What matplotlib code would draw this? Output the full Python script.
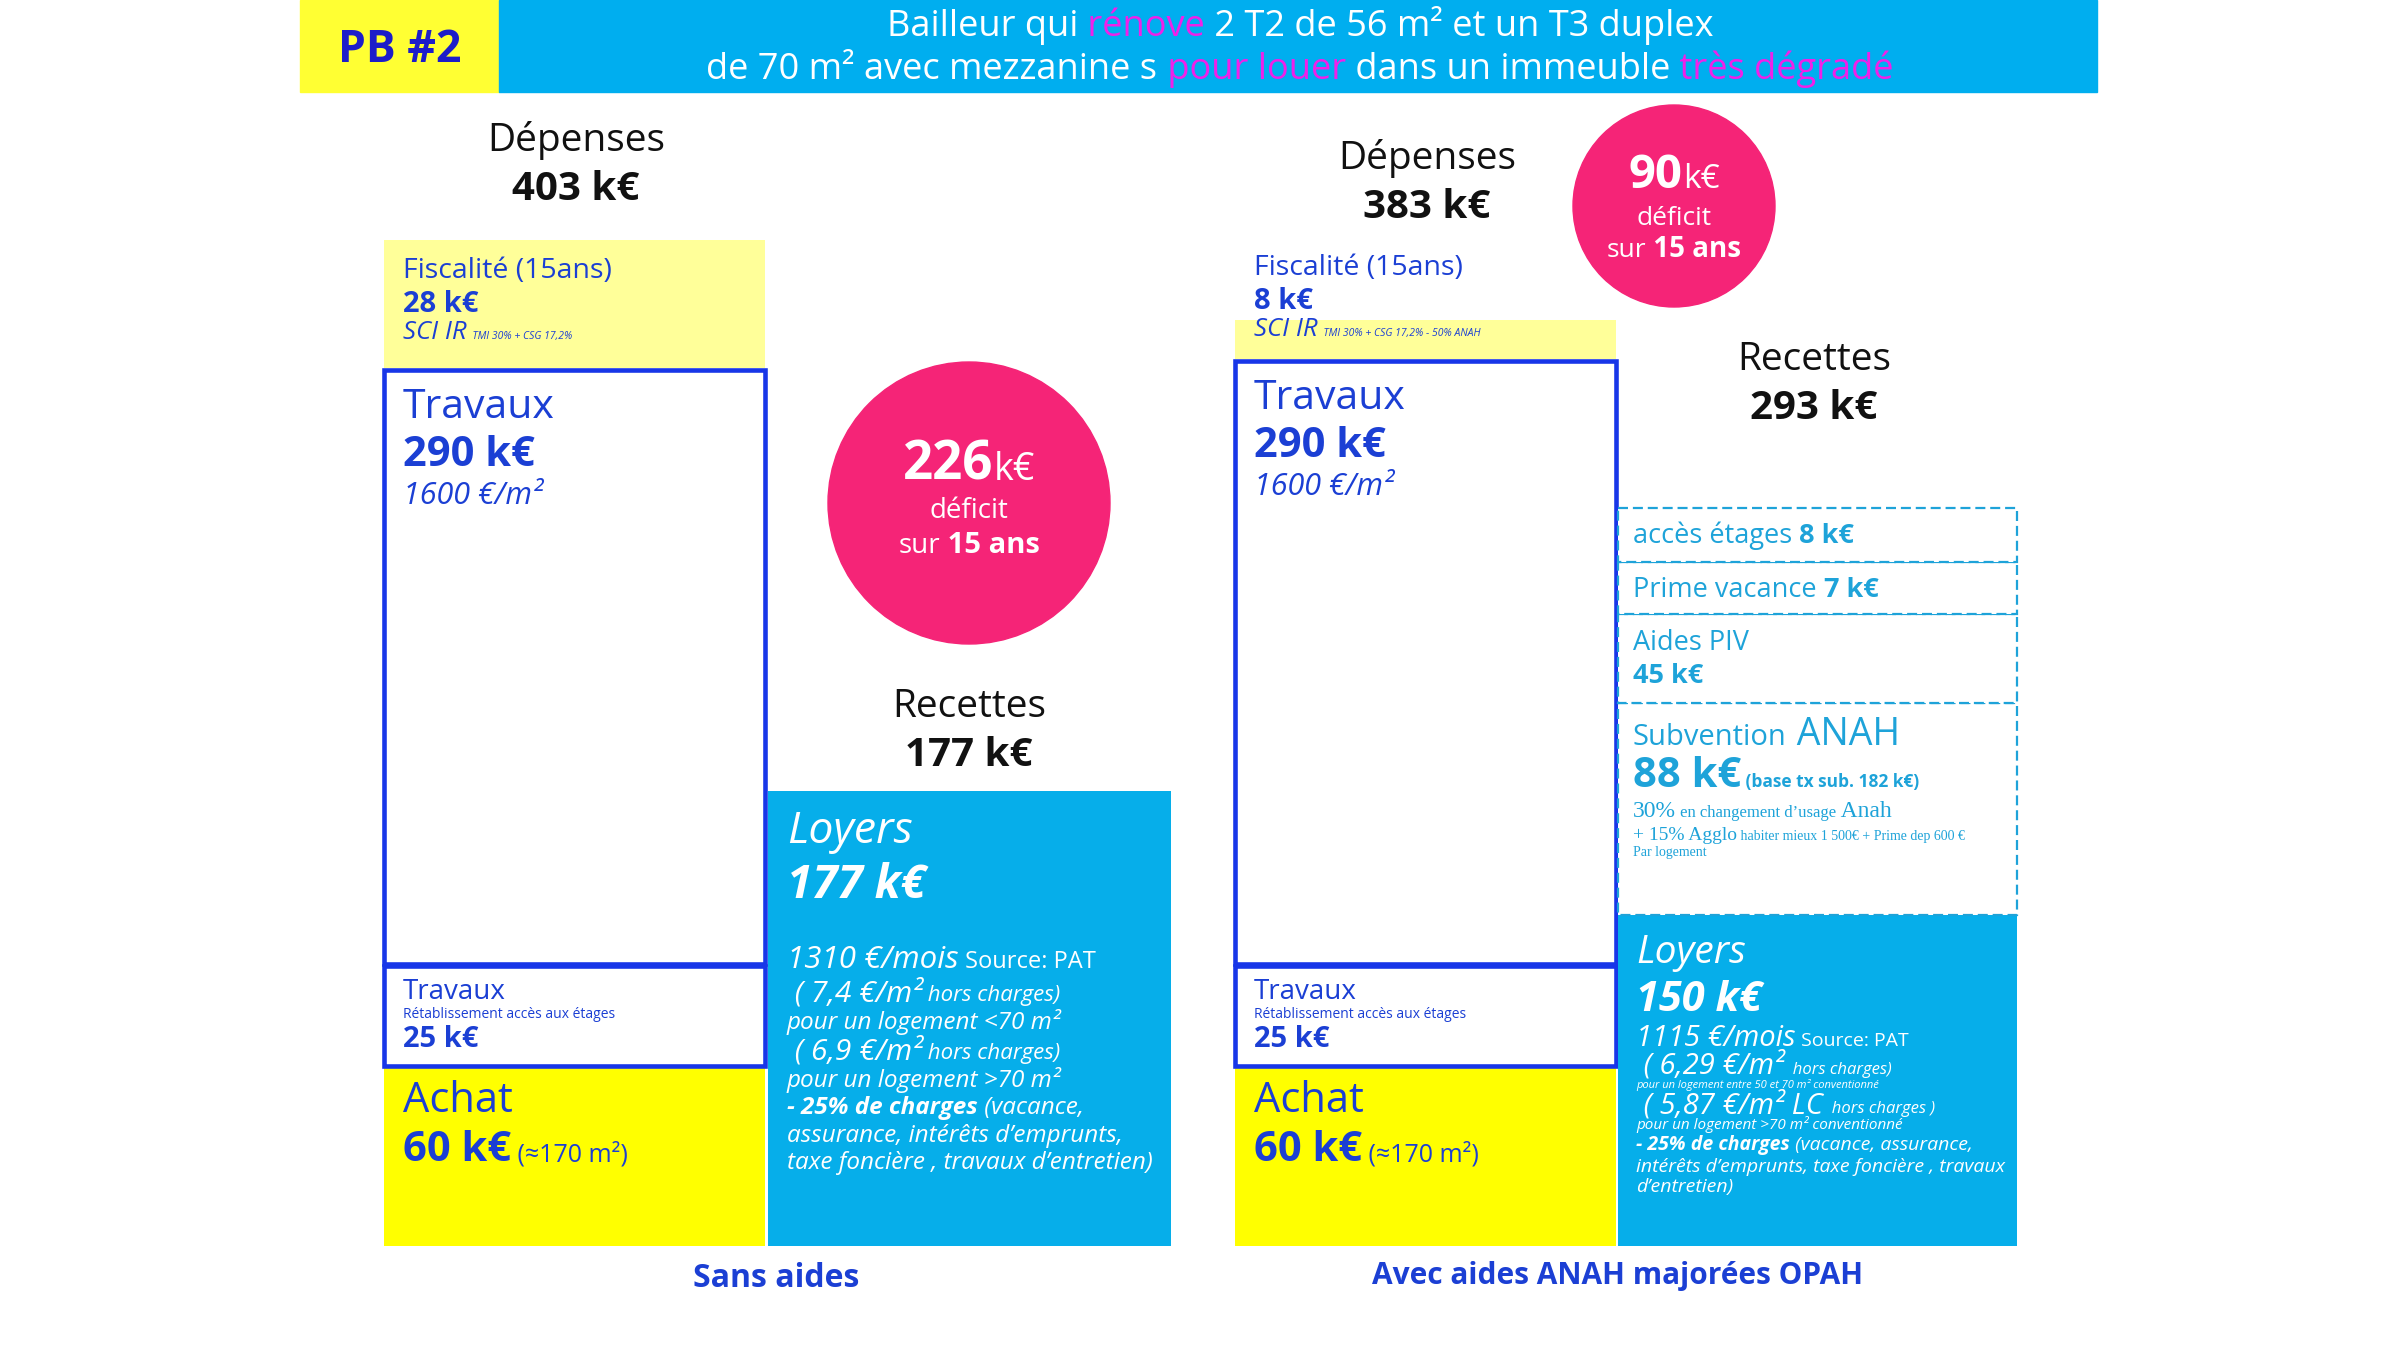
import matplotlib.pyplot as plt
from matplotlib.patches import Rectangle, Circle

# ---- données (k€) ----
scenarios = ["Sans aides", "Avec aides ANAH majorées OPAH"]
depenses_postes = ["Achat", "Travaux accès étages", "Travaux", "Fiscalité (15ans)"]
depenses_sans = [60, 25, 290, 28]
depenses_avec = [60, 25, 290, 8]
recettes_sans_postes = ["Loyers"]
recettes_sans = [177]
recettes_avec_postes = ["Loyers", "Subvention ANAH", "Aides PIV", "Prime vacance", "accès étages"]
recettes_avec = [150, 88, 45, 7, 8]
total_recettes = [177, 293]
base_subvention = 182
loyer_mois = [1310, 1115]
prix_travaux_m2 = 1600
surface_achat = 170

total_depenses = [sum(depenses_sans), sum(depenses_avec)]
deficit = [d - r for d, r in zip(total_depenses, total_recettes)]

# ---- mise en page (pixels) : les blocs ne sont pas proportionnels dans l'original ----
BASE = 1246
h_dep = [[178, 100, 594, 128], [178, 100, 603, 39]]
h_rec = [[455], [331, 212, 89, 52, 54]]

JAUNE = '#ffff00'
JAUNE_CLAIR = '#ffff99'
BLEU = '#1836e8'
TXT = '#1b3fd4'
CIEL = '#06aeea'
CIEL_TXT = '#1ea3d9'
ROSE = '#f52477'
MAGENTA = '#f020e8'

plt.rcParams['font.family'] = ['Open Sans', 'DejaVu Sans']

fig = plt.figure(figsize=(24, 13.5), dpi=100)
ax = fig.add_axes([0, 0, 1, 1])
ax.set_xlim(0, 2400)
ax.set_ylim(1350, 0)
ax.axis('off')
R = fig.canvas.get_renderer()


def ligne(x, y, morceaux, ha='left', color=TXT, family=None):
    # morceaux : (texte, taille, options)
    arts = []
    for m in morceaux:
        kw = dict(fontsize=m[1], color=color, va='baseline', ha='left')
        if family:
            kw['family'] = family
        if len(m) > 2:
            kw.update(m[2])
        arts.append(ax.text(x, y, m[0], **kw))
    ws = [a.get_window_extent(R).width for a in arts]
    x0 = x - sum(ws) / 2 if ha == 'center' else x
    for a, w in zip(arts, ws):
        a.set_x(x0)
        x0 += w


def pile(x, w, hauteurs, couleurs, bords, styles, lws, gap=2):
    bas = BASE
    tops = []
    for h, c, e, ls, lw in zip(hauteurs, couleurs, bords, styles, lws):
        top = bas - h
        ax.bar(x, h, bottom=top, width=w, align='edge', color=c,
               edgecolor=e, linestyle=ls, linewidth=lw, zorder=2)
        tops.append(top)
        bas = top - gap
    return tops


B = dict(fontweight='bold')
I = dict(style='italic')
BI = dict(fontweight='bold', style='italic')

# ---- bandeau ----
ax.add_patch(Rectangle((300, 0), 199, 92, color='#ffff33', zorder=1))
ax.add_patch(Rectangle((499, 0), 1598, 92, color='#00aeef', zorder=1))
ligne(400, 62, [("PB #2", 32, B)], ha='center', color='#1d1dc9')
ligne(1300, 36, [("Bailleur qui", 26), (" rénove", 26, dict(color=MAGENTA)),
                 (" 2 T2 de 56 m² et un T3 duplex", 26)], ha='center', color='white')
ligne(1300, 79, [("de 70 m² avec mezzanine s", 26), (" pour louer", 26, dict(color=MAGENTA)),
                 (" dans un immeuble", 26), (" très dégradé", 26, dict(color=MAGENTA))],
      ha='center', color='white')

# ---- colonnes dépenses ----
dep_x = [384, 1235]
rec_x = [768, 1618]
for k, vals in enumerate([depenses_sans, depenses_avec]):
    tops = pile(dep_x[k], 381, h_dep[k], [JAUNE, 'white', 'white', JAUNE_CLAIR],
                ['none', BLEU, BLEU, 'none'], ['-'] * 4, [0, 3.3, 3.3, 0])
    x = dep_x[k] + 19
    cx = dep_x[k] + 192
    # titre
    ty = [151, 169][k]
    ligne(cx, ty, [("Dépenses", 28)], ha='center', color='#111111')
    ligne(cx, ty + 49, [(f"{total_depenses[k]} k€", 29, B)], ha='center', color='#111111')
    # fiscalité
    fy = [278, 275][k]
    ligne(x, fy, [(depenses_postes[3], 20.5)])
    ligne(x, fy + 34, [(f"{vals[3]} k€", 21, B)])
    note = "TMI 30% + CSG 17,2%" + ("" if k == 0 else " - 50% ANAH")
    ligne(x, fy + 61, [("SCI IR", 18.5, I), ("  " + note, 7.5, I)])
    # travaux
    t = tops[2]
    ligne(x, t + 48, [(depenses_postes[2], 29.5)])
    ligne(x, t + 96, [(f"{vals[2]} k€", 30, B)])
    ligne(x, t + 134, [(f"{prix_travaux_m2} €/m²", 22, I)])
    # travaux accès
    t = tops[1]
    ligne(x, t + 33, [("Travaux", 20)])
    ligne(x, t + 52, [("Rétablissement accès aux étages", 10)])
    ligne(x, t + 81, [(f"{vals[1]} k€", 21, B)])
    # achat
    t = tops[0]
    ligne(x, t + 44, [(depenses_postes[0], 30)])
    ligne(x, t + 93, [(f"{vals[0]} k€", 30, B), (f" (≈{surface_achat} m²)", 18)])

# ---- recettes sans aides ----
tops = pile(rec_x[0], 403, h_rec[0], [CIEL], ['none'], ['-'], [0])
x = rec_x[0] + 19
t = tops[0]
ligne(969, 717, [("Recettes", 28)], ha='center', color='#111111')
ligne(969, 766, [(f"{total_recettes[0]} k€", 29, B)], ha='center', color='#111111')
W = 'white'
ligne(x, t + 52, [(recettes_sans_postes[0], 32, I)], color=W)
ligne(x, t + 107, [(f"{recettes_sans[0]} k€", 33, BI)], color=W)
ligne(x, t + 177, [(f"{loyer_mois[0]} €/mois", 22.5, I), (" Source: PAT", 17)], color=W)
ligne(x, t + 210, [(" ( 7,4 €/m²", 21.5, I), (" hors charges)", 16, I)], color=W)
ligne(x, t + 238, [("pour un logement <70 m²", 17.5, I)], color=W)
ligne(x, t + 268, [(" ( 6,9 €/m²", 21.5, I), (" hors charges)", 16, I)], color=W)
ligne(x, t + 296, [("pour un logement >70 m²", 17.5, I)], color=W)
ligne(x, t + 323, [("- 25% de charges", 17.5, BI), (" (vacance,", 17.5, I)], color=W)
ligne(x, t + 351, [("assurance, intérêts d’emprunts,", 17.5, I)], color=W)
ligne(x, t + 378, [("taxe foncière , travaux d’entretien)", 17.5, I)], color=W)

# ---- recettes avec aides ----
tops = pile(rec_x[1], 399, h_rec[1], [CIEL] + ['white'] * 4,
            ['none'] + [CIEL_TXT] * 4, ['-'] + [(0, (4.5, 2.2))] * 4,
            [0] + [1.6] * 4, gap=0)
ligne(1814, 370, [("Recettes", 28)], ha='center', color='#111111')
ligne(1814, 419, [(f"{total_recettes[1]} k€", 29, B)], ha='center', color='#111111')
x = rec_x[1] + 15
C = CIEL_TXT
ligne(x, tops[4] + 35, [(recettes_avec_postes[4], 19.5), (f" {recettes_avec[4]} k€", 19.5, B)], color=C)
ligne(x, tops[3] + 35, [(recettes_avec_postes[3], 19.5), (f" {recettes_avec[3]} k€", 19.5, B)], color=C)
ligne(x, tops[2] + 36, [(recettes_avec_postes[2], 19.5)], color=C)
ligne(x, tops[2] + 69, [(f"{recettes_avec[2]} k€", 19.5, B)], color=C)
t = tops[1]
ligne(x, t + 42, [("Subvention", 21), (" ANAH", 27)], color=C)
ligne(x, t + 84, [(f"{recettes_avec[1]} k€", 30, B), (f" (base tx sub. {base_subvention} k€)", 12.5, B)], color=C)
SERIF = ['Liberation Serif', 'DejaVu Serif']
ligne(x, t + 114, [("30%", 17), (" en changement d’usage", 12), (" Anah", 17)], color=C, family=SERIF)
ligne(x, t + 137, [("+ 15% Agglo", 14), (" habiter mieux 1 500€ + Prime dep 600 €", 10)], color=C, family=SERIF)
ligne(x, t + 153, [("Par logement", 10)], color=C, family=SERIF)

x = rec_x[1] + 18
t = tops[0]
ligne(x, t + 48, [(recettes_avec_postes[0], 28, I)], color=W)
ligne(x, t + 96, [(f"{recettes_avec[0]} k€", 30, BI)], color=W)
ligne(x, t + 131, [(f"{loyer_mois[1]} €/mois", 21, I), (" Source: PAT", 14)], color=W)
ligne(x, t + 159, [(" ( 6,29 €/m²", 21, I), ("  hors charges)", 12, I)], color=W)
ligne(x, t + 173, [("pour un logement entre 50 et 70 m² conventionné", 8, I)], color=W)
ligne(x, t + 198, [(" ( 5,87 €/m² LC", 21, I), ("  hors charges )", 12, I)], color=W)
ligne(x, t + 214, [("pour un logement >70 m² conventionné", 11, I)], color=W)
ligne(x, t + 235, [("- 25% de charges", 14, BI), (" (vacance, assurance,", 14, I)], color=W)
ligne(x, t + 257, [("intérêts d’emprunts, taxe foncière , travaux", 14, I)], color=W)
ligne(x, t + 277, [("d’entretien)", 14, I)], color=W)

# ---- bulles déficit ----
bulles = [(969, 503, 141), (1674, 206, 101)]
tailles = [(38, 27, 20, 21), (34, 24, 19, 20)]
decal = [(-23, 15, 50), (-18, 19, 51)]
for k, (bx, by, r) in enumerate(bulles):
    ax.add_patch(Circle((bx, by), r, color=ROSE, zorder=3))
    a, b, c, d = tailles[k]
    d1, d2, d3 = decal[k]
    ligne(bx, by + d1, [(f"{deficit[k]}", a, B), ("k€", b)], ha='center', color=W)
    ligne(bx, by + d2, [("déficit", c)], ha='center', color=W)
    ligne(bx, by + d3, [("sur", c), (" 15 ans", d, B)], ha='center', color=W)

# ---- légendes bas ----
ligne(776, 1287, [(scenarios[0], 23, B)], ha='center')
ligne(1618, 1284, [(scenarios[1], 21.5, B)], ha='center')

for t in ax.texts:
    t.set_zorder(5)

fig.savefig('out.png', dpi=100)
